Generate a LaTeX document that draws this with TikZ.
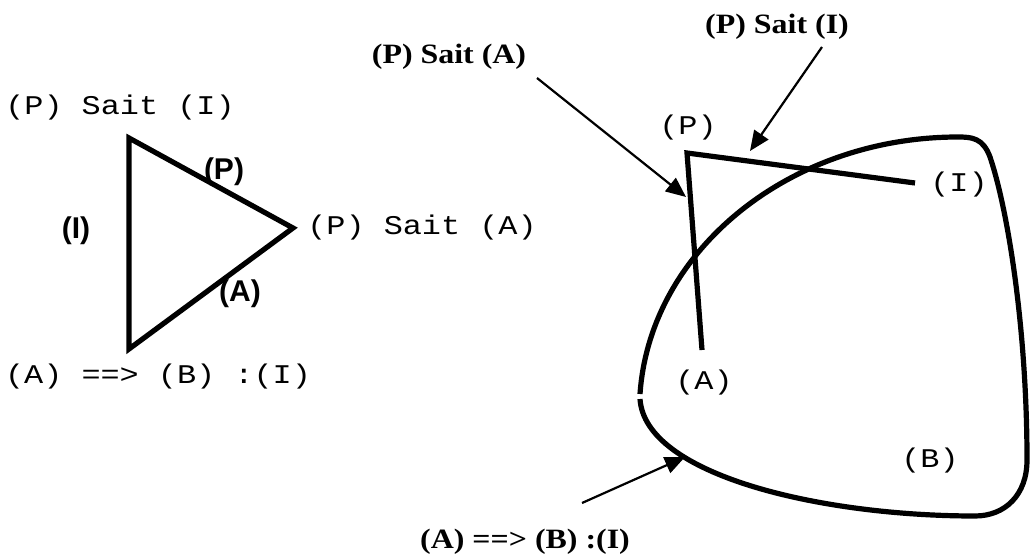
\documentclass[tikz,border=0pt]{standalone}
\usepackage{fontspec}
\setmainfont{Liberation Serif}
\setsansfont{Liberation Sans}
\setmonofont{Liberation Mono}
\usetikzlibrary{arrows.meta}

\begin{document}
\begin{tikzpicture}[x=1pt,y=-1pt,
  edge/.style={line width=5.2pt},
  pointer/.style={line width=2.2pt,-{Triangle[length=20pt,width=17pt]}},
  mono/.style={font=\ttfamily\fontsize{27}{27}\selectfont,xscale=1.18,inner sep=0pt},
  tag/.style={font=\sffamily\bfseries\fontsize{30}{30}\selectfont,inner sep=0pt},
  title/.style={font=\rmfamily\bfseries\fontsize{28}{28}\selectfont,xscale=1.14,inner sep=0pt}]
\useasboundingbox (0,0) rectangle (1030,556);

% left: the triangle
\coordinate (T1) at (129,138);
\coordinate (T2) at (293,228);
\coordinate (T3) at (129,349);
\draw[edge] (T1) -- (T2) -- (T3) -- cycle;

\node[tag] (tP) at (224,172) {(P)};
\node[tag] (tI) at (76,231) {(I)};
\node[tag] (tA) at (240,294) {(A)};

\node[mono] (sPI) at (120,108) {(P) Sait (I)};
\node[mono] (sPA) at (422,228) {(P) Sait (A)};
\node[mono] (sImp) at (158,377) {(A) ==> (B) :(I)};

% right: the region and the bent line
\draw[edge] (640,399) .. controls (645,475) and (820,516) .. (975,516)
  .. controls (1005,516) and (1027,495) .. (1027,460)
  .. controls (1027,330) and (1008,210) .. (990,157)
  .. controls (983,138) and (972,137) .. (958,137)
  .. controls (790,137) and (650,250) .. (640,394);

\coordinate (P) at (687,153);
\coordinate (I) at (915,183);
\coordinate (A) at (702,350);
\draw[edge] (I) -- (P) -- (A);

\node[mono] (lP) at (688,128) {(P)};
\node[mono] (lI) at (959,185) {(I)};
\node[mono] (lA) at (704,383) {(A)};
\node[mono] (lB) at (930,461) {(B)};

\node[title] (hPI) at (777,27) {(P) Sait (I)};
\node[title] (hPA) at (449,57) {(P) Sait (A)};
\node[title] (hImp) at (525,542) {(A) ==> (B) :(I)};

\coordinate (a1) at (537,78);
\coordinate (t1) at (686,197);
\coordinate (a2) at (822,47);
\coordinate (t2) at (750,151);
\coordinate (a3) at (582,503);
\coordinate (t3) at (685,457);
\draw[pointer] (a1) -- (t1);
\draw[pointer] (a2) -- (t2);
\draw[pointer] (a3) -- (t3);

\end{tikzpicture}
\end{document}
